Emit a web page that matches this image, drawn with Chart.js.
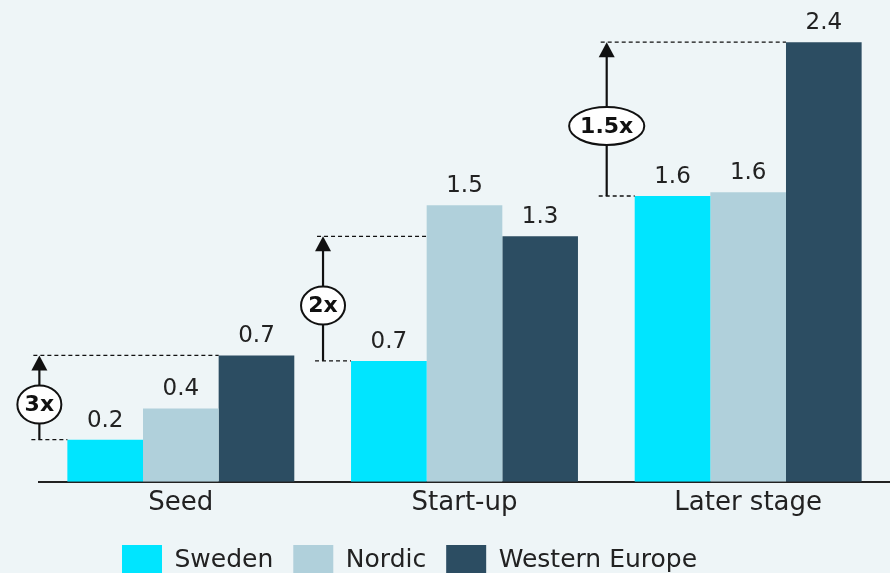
<!DOCTYPE html>
<html>
<head>
<meta charset="utf-8">
<script src="https://cdn.jsdelivr.net/npm/chart.js@4"></script>
<style>
  html, body { margin: 0; padding: 0; background: #eef5f7; }
  #wrap { width: 890px; height: 573px; }
</style>
</head>
<body>
<div id="wrap"><canvas id="chart"></canvas></div>
<script>
// data
const stages = ["Seed", "Start-up", "Later stage"];
const sweden = [0.23, 0.66, 1.56];
const nordic = [0.40, 1.51, 1.58];
const westernEurope = [0.69, 1.34, 2.40];
const multiples = ["3x", "2x", "1.5x"];

const FONT = "'DejaVu Sans', sans-serif";
const INK = "#222";

// value labels above each bar
const valueLabels = {
  id: "valueLabels",
  afterDatasetsDraw(chart) {
    const ctx = chart.ctx;
    ctx.save();
    ctx.font = "23px " + FONT;
    ctx.fillStyle = INK;
    ctx.textAlign = "center";
    ctx.textBaseline = "middle";
    chart.data.datasets.forEach((ds, i) => {
      chart.getDatasetMeta(i).data.forEach((bar, j) => {
        ctx.fillText(ds.data[j].toFixed(1), bar.x, bar.y - 19);
      });
    });
    ctx.restore();
  }
};

// dashed guides, arrows and the "Nx" bubbles
const multipleArrows = {
  id: "multipleArrows",
  afterDatasetsDraw(chart) {
    const ctx = chart.ctx;
    const metas = [0, 1, 2].map(i => chart.getDatasetMeta(i));
    stages.forEach((s, j) => {
      const low = metas[0].data[j];
      const high = metas[2].data[j];
      const lowLeft = low.x - low.width / 2;
      const ax = lowLeft - 28;
      const yLow = low.y, yHigh = high.y;

      // top guide runs right until it meets a bar that reaches it
      let stop = high.x - high.width / 2;
      for (let k = 1; k < 3; k++) {
        const b = metas[k].data[j];
        if (b.y <= yHigh + 0.5) { stop = b.x - b.width / 2; break; }
      }

      ctx.save();
      ctx.strokeStyle = "#111";
      ctx.lineWidth = 1.3;
      ctx.setLineDash([4, 3]);
      ctx.beginPath();
      ctx.moveTo(ax - 6, yHigh); ctx.lineTo(stop, yHigh);
      ctx.moveTo(ax - 8, yLow); ctx.lineTo(lowLeft, yLow);
      ctx.stroke();
      ctx.setLineDash([]);

      // shaft
      ctx.lineWidth = 2.2;
      ctx.beginPath();
      ctx.moveTo(ax, yLow);
      ctx.lineTo(ax, yHigh + 12);
      ctx.stroke();
      // head
      ctx.fillStyle = "#111";
      ctx.beginPath();
      ctx.moveTo(ax, yHigh);
      ctx.lineTo(ax - 8, yHigh + 15);
      ctx.lineTo(ax + 8, yHigh + 15);
      ctx.closePath();
      ctx.fill();

      // bubble
      const cy = (yLow + yHigh) / 2 + 7;
      ctx.font = "bold 22px " + FONT;
      const tw = ctx.measureText(multiples[j]).width;
      const rx = tw > 40 ? tw / 2 + 11 : 22;
      ctx.beginPath();
      ctx.ellipse(ax, cy, rx, 19, 0, 0, Math.PI * 2);
      ctx.fillStyle = "#fff";
      ctx.fill();
      ctx.lineWidth = 2;
      ctx.stroke();
      ctx.fillStyle = "#111";
      ctx.textAlign = "center";
      ctx.textBaseline = "middle";
      ctx.fillText(multiples[j], ax, cy + 1);
      ctx.restore();
    });
  }
};

// nudge the legend left like the original
const legendShift = {
  id: "legendShift",
  afterLayout(chart) {
    const lg = chart.legend;
    const w = lg.right - lg.left;
    lg.left = 123 - 21;
    lg.right = lg.left + w;
  }
};

new Chart(document.getElementById("chart"), {
  type: "bar",
  data: {
    labels: stages,
    datasets: [
      { label: "Sweden", data: sweden, backgroundColor: "#00e5ff" },
      { label: "Nordic", data: nordic, backgroundColor: "#b0d0db" },
      { label: "Western Europe", data: westernEurope, backgroundColor: "#2c4d62" }
    ]
  },
  options: {
    responsive: true,
    maintainAspectRatio: false,
    animation: false,
    layout: { padding: { left: 39, right: 0, top: 0, bottom: -12 } },
    datasets: { bar: { categoryPercentage: 0.8, barPercentage: 1.0, borderWidth: 0 } },
    scales: {
      x: {
        grid: { display: false, drawTicks: false },
        border: { display: true, color: "#222", width: 2 },
        ticks: { color: INK, font: { family: FONT, size: 26 }, padding: 6 }
      },
      y: { display: false, min: 0, max: 2.63 }
    },
    plugins: {
      tooltip: { enabled: false },
      legend: {
        position: "bottom",
        align: "start",
        labels: {
          color: INK,
          font: { family: FONT, size: 25 },
          boxWidth: 40,
          boxHeight: 30,
          padding: 20
        }
      }
    }
  },
  plugins: [valueLabels, multipleArrows, legendShift]
});
</script>
</body>
</html>
